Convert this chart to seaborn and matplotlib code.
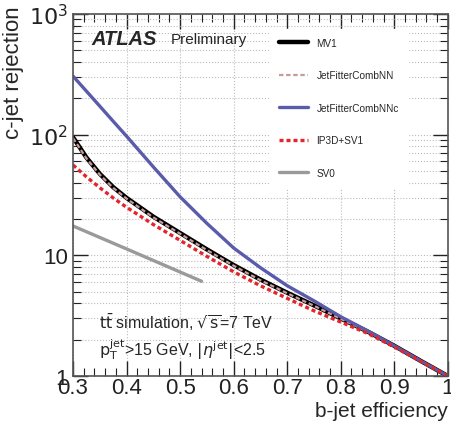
import numpy as np
import pandas as pd
import seaborn as sns
import matplotlib
matplotlib.use("Agg")
import matplotlib.pyplot as plt
from matplotlib.ticker import MultipleLocator, LogLocator, FixedLocator, FixedFormatter, NullFormatter

# valores
eff = [0.3, 0.325, 0.35, 0.375, 0.4, 0.45, 0.5, 0.55, 0.6, 0.65, 0.7, 0.75, 0.8, 0.85, 0.9, 0.95, 1.0]
mv1 = [95, 64.6, 47.3, 36.7, 29.9, 20.9, 15.3, 11.2, 8.3, 6.3, 4.9, 3.85, 3.0, 2.34, 1.78, 1.33, 1.0]
jfnn = [93.5, 63.6, 46.6, 36.2, 29.5, 20.6, 15.1, 11.05, 8.2, 6.22, 4.85, 3.82, 2.98, 2.33, 1.77, 1.33, 1.0]
jfnnc = [305, 229, 172, 129, 97, 54, 30.5, 18.4, 11.5, 7.9, 5.6, 4.2, 3.1, 2.37, 1.78, 1.33, 1.0]
ip3d = [56, 44.7, 36.3, 29.9, 25, 18, 13.3, 9.8, 7.3, 5.6, 4.4, 3.47, 2.8, 2.26, 1.74, 1.32, 1.0]
sv0_eff = [0.3, 0.4, 0.54]
sv0 = [17.5, 11.3, 6.1]

sns.set_style("ticks")
plt.rcParams['font.family'] = ['Liberation Sans', 'DejaVu Sans']

fig = plt.figure(figsize=(4.51, 4.27), dpi=100)
ax = fig.add_axes([0.162, 0.117, 0.831, 0.848])

sns.lineplot(x=eff, y=mv1, ax=ax, color='black', lw=3.2, label='MV1')
sns.lineplot(x=eff, y=jfnn, ax=ax, color='#c99a9a', lw=1.6, ls=(0, (2, 1.2)), label='JetFitterCombNN')
sns.lineplot(x=eff, y=jfnnc, ax=ax, color='#5a5cab', lw=2.4, label='JetFitterCombNNc')
sns.lineplot(x=eff, y=ip3d, ax=ax, color='#e3242b', lw=2.4, ls=(0, (1.2, 0.9)), label='IP3D+SV1')
sns.lineplot(x=sv0_eff, y=sv0, ax=ax, color='#9a9a9a', lw=2.4, label='SV0')

ax.set_yscale('log')
ax.set_xlim(0.3, 1.0)
ax.set_ylim(1, 1000)

ax.xaxis.set_minor_locator(MultipleLocator(0.02))
ax.set_xticks([0.3, 0.4, 0.5, 0.6, 0.7, 0.8, 0.9, 1.0])
ax.set_xticklabels(['0.3', '0.4', '0.5', '0.6', '0.7', '0.8', '0.9', '1'])
ax.yaxis.set_major_locator(FixedLocator([1, 10, 100, 1000]))
ax.yaxis.set_major_formatter(FixedFormatter(['1', '10', '$10^2$', '$10^3$']))
ax.yaxis.set_minor_locator(LogLocator(base=10, subs=np.arange(2, 10)))
ax.yaxis.set_minor_formatter(NullFormatter())

ax.tick_params(which='both', direction='in', top=True, right=True, labelsize=16, colors='#222222')
ax.tick_params(which='major', length=11, width=1)
ax.tick_params(which='minor', length=6, width=0.8)
ax.tick_params(axis='x', pad=1)
for s in ax.spines.values():
    s.set_color('#555555')
    s.set_linewidth(1.2)

ax.grid(True, which='major', axis='x', color='#bbbbbb', ls=':', lw=0.8)
ax.grid(True, which='both', axis='y', color='#bbbbbb', ls=':', lw=0.8)

ax.set_ylabel('c-jet rejection', fontsize=16, loc='top')
ax.yaxis.set_label_coords(-0.13, 1.025)
ax.set_xlabel('b-jet efficiency', fontsize=15, loc='right', labelpad=2)

leg = ax.legend(loc='upper left', bbox_to_anchor=(0.513, 0.973), frameon=True, fontsize=7.2,
                handlelength=2.9, labelspacing=2.25, borderpad=0.9, handletextpad=0.8)
leg.get_frame().set_facecolor('white')
leg.get_frame().set_edgecolor('white')
leg.get_frame().set_alpha(1)

ax.text(0.05, 0.932, 'ATLAS', transform=ax.transAxes, fontsize=14.5, fontweight='bold',
        fontstyle='italic', va='center')
ax.text(0.26, 0.932, 'Preliminary', transform=ax.transAxes, fontsize=11, va='center')
ax.text(0.07, 0.152, r'$\mathrm{t\bar{t}}$ simulation, $\sqrt{\mathrm{s}}$=7 TeV', transform=ax.transAxes,
        fontsize=11.5, va='center')
ax.text(0.07, 0.075, r'$\mathrm{p_T^{jet}}$>15 GeV, $|\eta^{\mathrm{jet}}|$<2.5', transform=ax.transAxes,
        fontsize=11.5, va='center')

fig.savefig('out.png', dpi=100)
